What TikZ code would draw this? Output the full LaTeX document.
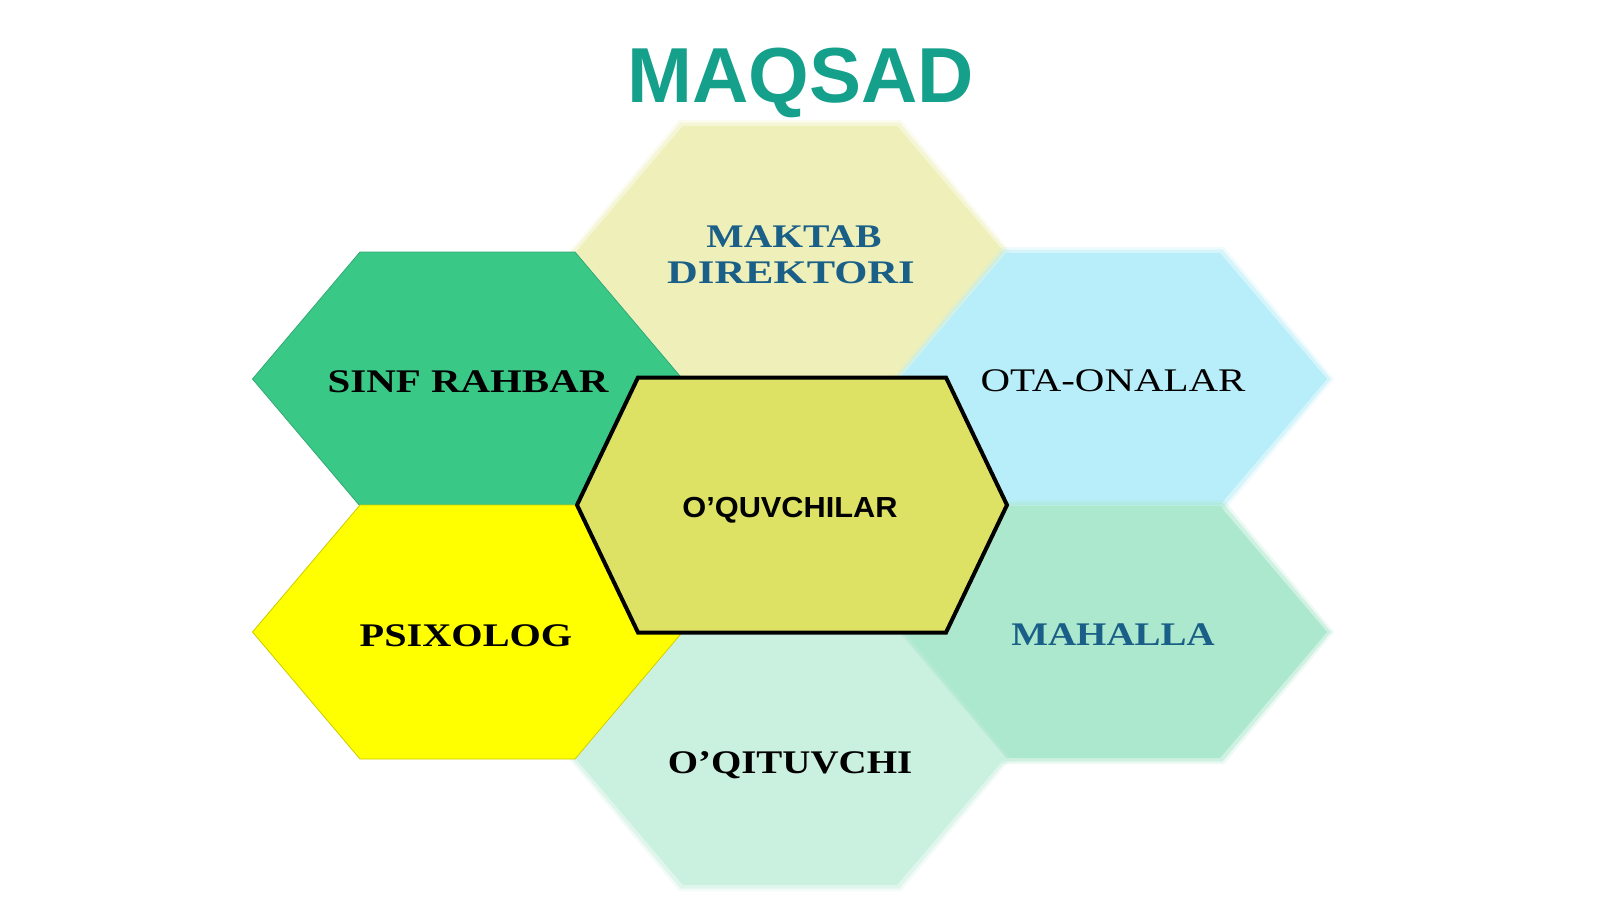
\documentclass[tikz,border=0pt]{standalone}
\usepackage{fontspec}
\setmainfont{Liberation Serif}
\newfontfamily\sansf{Liberation Sans}
\usepackage{graphicx}
\definecolor{cmaktab}{HTML}{EFF0B9}
\definecolor{csinf}{HTML}{3AC887}
\definecolor{cota}{HTML}{B8EEFA}
\definecolor{ccenter}{HTML}{DDE264}
\definecolor{cpsix}{HTML}{FFFF00}
\definecolor{cmahalla}{HTML}{ACE8CD}
\definecolor{coqit}{HTML}{CAF0E0}
\definecolor{cblue}{HTML}{1A5F87}
\definecolor{ctitle}{HTML}{14A08A}
% hexagon: centre x, centre y, tip half-width, corner half-width, half-height
\newcommand\myhex[5]{(#1-#3,#2) -- (#1-#4,#2-#5) -- (#1+#4,#2-#5) -- (#1+#3,#2) -- (#1+#4,#2+#5) -- (#1-#4,#2+#5) -- cycle}
\newcommand\softhex[3]{%
  \fill[#1, opacity=0.22] \myhex{#2}{#3}{221}{111}{132};
  \fill[#1, opacity=0.45] \myhex{#2}{#3}{218}{109.5}{129.5};
  \fill[#1] \myhex{#2}{#3}{214}{107}{126};
}
\tikzset{
  lbl/.style={inner sep=0pt, anchor=base, font=\fontsize{33}{37}\selectfont\bfseries, text=black},
  lblblue/.style={lbl, text=cblue},
}
\begin{document}
\begin{tikzpicture}[x=1pt, y=-1pt]
\useasboundingbox (0,0) rectangle (1600,900);
\fill[white] (0,0) rectangle (1600,900);
% soft-edged hexagons
\softhex{cmaktab}{790}{252}
\softhex{cota}{1113}{379}
\softhex{cmahalla}{1113}{632}
\softhex{coqit}{790}{759}
% crisp hexagons
\filldraw[fill=csinf, draw=csinf!85!black, line width=0.8pt] \myhex{467.5}{379}{215}{107.5}{127};
\filldraw[fill=cpsix, draw=cpsix!80!black, line width=0.8pt] \myhex{467.5}{632}{215}{107.5}{127};
% central hexagon
\filldraw[fill=ccenter, draw=black, line width=4pt, line join=miter] \myhex{792}{505}{215}{154}{127.5};
% labels
\node[inner sep=0pt, anchor=base, text=ctitle, font=\sansf\fontsize{78}{78}\selectfont\bfseries] (title) at (801,102) {MAQSAD};
\node[lblblue] (maktab) at (794,247) {\scalebox{1.2}[1]{MAKTAB}};
\node[lblblue] (direktori) at (791,283) {\scalebox{1.29}[1]{DIREKTORI}};
\node[lbl] (sinf) at (468,392) {\scalebox{1.24}[1]{SINF RAHBAR}};
\node[lbl, font=\fontsize{33}{37}\selectfont] (ota) at (1113,391) {\scalebox{1.24}[1]{OTA-ONALAR}};
\node[inner sep=0pt, anchor=base, font=\sansf\fontsize{29}{29}\selectfont\bfseries] (center) at (790,517) {\scalebox{1.06}[1]{O’QUVCHILAR}};
\node[lbl] (psix) at (466,646) {\scalebox{1.22}[1]{PSIXOLOG}};
\node[lblblue] (mahalla) at (1113,645) {\scalebox{1.18}[1]{MAHALLA}};
\node[lbl] (oqit) at (790,773) {\scalebox{1.18}[1]{O’QITUVCHI}};
\end{tikzpicture}
\end{document}
